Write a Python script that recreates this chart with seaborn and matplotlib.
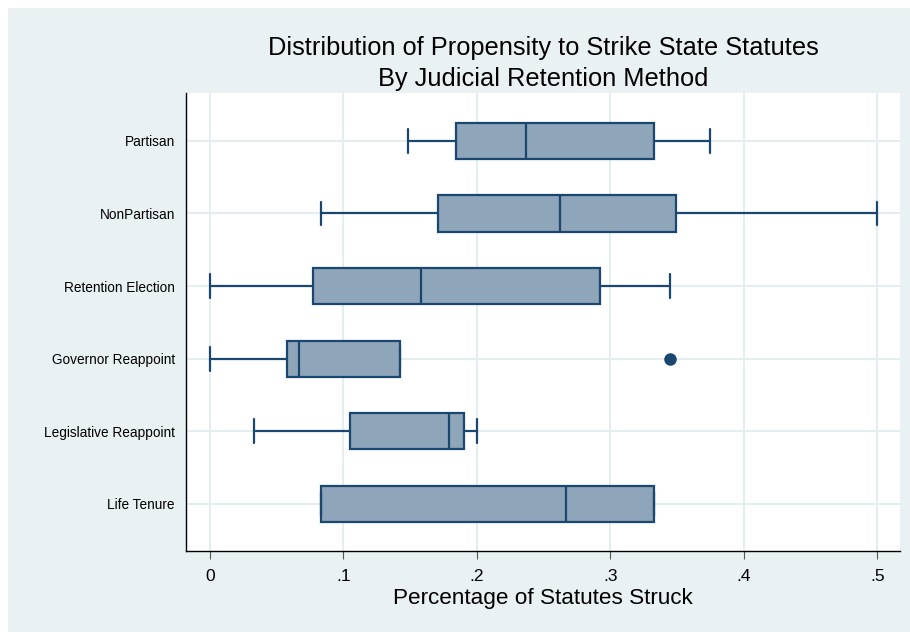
import pandas as pd
import matplotlib.pyplot as plt
import matplotlib.patches as mpatches
import seaborn as sns

# Valores (cinco numeros por grupo)
metodos = ["Partisan", "NonPartisan", "Retention Election",
           "Governor Reappoint", "Legislative Reappoint", "Life Tenure"]
minimo = [0.148, 0.083, 0.000, 0.000, 0.033, 0.083]
quartil_1 = [0.184, 0.171, 0.077, 0.058, 0.105, 0.083]
mediana = [0.237, 0.262, 0.158, 0.067, 0.179, 0.267]
quartil_3 = [0.333, 0.349, 0.292, 0.142, 0.190, 0.333]
maximo = [0.375, 0.500, 0.345, 0.345, 0.200, 0.333]

x_ticks = [0, 0.1, 0.2, 0.3, 0.4, 0.5]
x_tick_labels = ["0", ".1", ".2", ".3", ".4", ".5"]

# Preparacao dos dados: 5 observacoes por grupo reproduzem os quartis exatos
linhas = []
for i, metodo in enumerate(metodos):
    for valor in (minimo[i], quartil_1[i], mediana[i], quartil_3[i], maximo[i]):
        linhas.append({"Metodo": metodo, "Valor": valor})
dados = pd.DataFrame(linhas)

navy = "#1A476F"
fundo = "#EAF1F3"
grade = "#E4EDF0"

sns.set_theme(style="white", rc={"text.color": "black", "axes.labelcolor": "black"})
plt.rcParams["font.family"] = ["Liberation Sans", "DejaVu Sans"]

fig = plt.figure(figsize=(9.1, 6.32), dpi=100, facecolor="white")
fig.patches.append(mpatches.Rectangle((8 / 910, 0), 1, 1 - 8 / 632,
                                      transform=fig.transFigure,
                                      facecolor=fundo, edgecolor="none", zorder=-10))
ax = fig.add_axes([186 / 910, 1 - 551 / 632, (900 - 186) / 910, (551 - 93) / 632])
ax.set_facecolor("white")

sns.boxplot(data=dados, x="Valor", y="Metodo", order=metodos, orient="h",
            color="#8FA5B9", saturation=1, linecolor=navy, linewidth=1.6,
            width=0.5, whis=1.5, fliersize=8, capwidths=0.33,
            flierprops={"marker": "o", "markerfacecolor": navy,
                        "markeredgecolor": navy},
            ax=ax, zorder=3)

ax.set_xlim(-0.018, 0.517)
ax.set_ylim(5.65, -0.66)

# Grade
for xv in x_ticks:
    ax.axvline(xv, color=grade, lw=1.4, zorder=1)
for yv in range(len(metodos)):
    ax.axhline(yv, color=grade, lw=1.4, zorder=1)

ax.set_xticks(x_ticks)
ax.set_xticklabels(x_tick_labels)
ax.tick_params(axis="x", bottom=True, length=6, width=0.8, color="#555555",
               pad=7, labelsize=12.5, labelcolor="black")
ax.tick_params(axis="y", left=False, length=0, pad=8, labelsize=9.8,
               labelcolor="black")

for lado in ["top", "right"]:
    ax.spines[lado].set_visible(False)
for lado in ["left", "bottom"]:
    ax.spines[lado].set_color("black")
    ax.spines[lado].set_linewidth(1.0)

ax.set_ylabel("")
ax.set_xlabel("Percentage of Statutes Struck", fontsize=16.2, labelpad=3,
              color="black")
ax.set_title("Distribution of Propensity to Strike State Statutes\nBy Judicial Retention Method",
             fontsize=18.3, pad=5, linespacing=1.35, color="black")

plt.savefig("out.png", dpi=100, facecolor=fig.get_facecolor())
